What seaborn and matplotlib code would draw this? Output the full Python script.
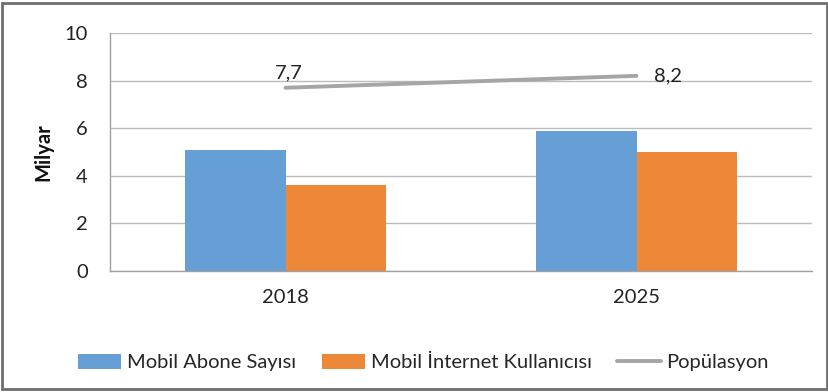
import matplotlib
matplotlib.use("Agg")
import matplotlib.pyplot as plt
from matplotlib.patches import Rectangle
from matplotlib.lines import Line2D
from matplotlib.patches import Patch
import seaborn as sns
import pandas as pd

years = ["2018", "2025"]
subscribers = [5.1, 5.9]
internet_users = [3.6, 5.0]
population = [7.7, 8.2]
population_labels = ["7,7", "8,2"]
series_names = ["Mobil Abone Sayısı", "Mobil İnternet Kullanıcısı", "Popülasyon"]
y_ticks = [0, 2, 4, 6, 8, 10]

blue = "#659FD6"
orange = "#EE8839"
gray = "#A5A5A5"
text_color = "#222222"
fs = 14.5

sns.set_theme(style="white")
plt.rcParams["font.family"] = ["Lato", "DejaVu Sans"]

df = pd.DataFrame({
    "Yıl": years * 2,
    "Değer": subscribers + internet_users,
    "Seri": [series_names[0]] * len(years) + [series_names[1]] * len(years),
})

fig = plt.figure(figsize=(8.29, 3.92), dpi=100)
ax = fig.add_axes([0.1327, 0.3087, 0.8468, 0.6071])

sns.barplot(data=df, x="Yıl", y="Değer", hue="Seri", order=years,
            hue_order=series_names[:2], palette=[blue, orange],
            width=0.57, gap=0, saturation=1, ax=ax, legend=False,
            linewidth=0, errorbar=None)

xs = list(range(len(years)))
sns.lineplot(x=xs, y=population, color=gray, linewidth=2.8, ax=ax, zorder=4)

ax.text(xs[0] + 0.01, population[0] + 0.25, population_labels[0],
        ha="center", va="bottom", fontsize=fs, color=text_color)
ax.text(xs[1] + 0.05, population[1], population_labels[1],
        ha="left", va="center", fontsize=fs, color=text_color)

ax.set_xlim(-0.5, 1.5)
ax.set_ylim(0, 10)
ax.set_yticks(y_ticks)
ax.set_yticklabels([str(t) for t in y_ticks], fontsize=fs, color=text_color)
ax.set_xticks(xs)
ax.set_xticklabels(years, fontsize=fs, color=text_color)
ax.set_xticks([-0.5, 0.5, 1.5], minor=True)
ax.tick_params(axis="x", which="major", length=0, pad=13)
ax.tick_params(axis="x", which="minor", length=6, width=1, color="#A0A0A0", direction="out")
ax.tick_params(axis="y", which="major", length=7, width=1, color="#A0A0A0", direction="out", pad=9)
ax.set_xlabel("")
ax.set_ylabel("Milyar", fontsize=fs, fontweight="bold", color="#111111", labelpad=8)

ax.yaxis.grid(True, color="#BBBBBB", linewidth=1)
ax.set_axisbelow(True)
for side in ["top", "right"]:
    ax.spines[side].set_visible(False)
for side in ["left", "bottom"]:
    ax.spines[side].set_color("#A0A0A0")
    ax.spines[side].set_linewidth(1)

handles = [
    Patch(facecolor=blue, edgecolor="none", label=series_names[0]),
    Patch(facecolor=orange, edgecolor="none", label=series_names[1]),
    Line2D([0], [0], color=gray, linewidth=2.8, label=series_names[2]),
]
fig.legend(handles=handles, loc="center", bbox_to_anchor=(0.511, 0.075), ncol=3,
           frameon=False, fontsize=fs, handlelength=2.15, handleheight=0.8,
           handletextpad=0.3, columnspacing=1.25)

fig.patches.append(Rectangle((0.003, 0.008), 0.994, 0.985, transform=fig.transFigure,
                             fill=False, edgecolor="#6E6E6E", linewidth=2))

fig.savefig("out.png", dpi=100)
